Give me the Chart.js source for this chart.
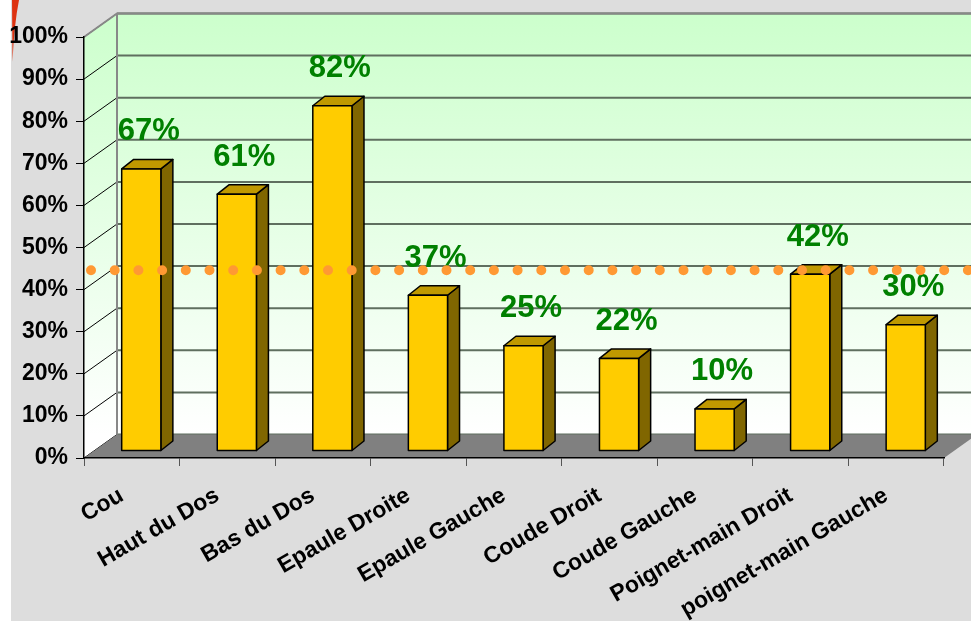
<!DOCTYPE html>
<html>
<head>
<meta charset="utf-8">
<script src="https://cdn.jsdelivr.net/npm/chart.js@4.4.1/dist/chart.umd.min.js"></script>
<style>
    body { margin: 0; background: #ffffff; }
    canvas { display: block; }
</style>
</head>
<body>
<canvas id="douleurChart" width="971" height="621"></canvas>
<script>
const categories = ['Cou', 'Haut du Dos', 'Bas du Dos', 'Epaule Droite', 'Epaule Gauche',
    'Coude Droit', 'Coude Gauche', 'Poignet-main Droit', 'poignet-main Gauche'];
const percentages = [67, 61, 82, 37, 25, 22, 10, 42, 30];
const yTicks = [0, 10, 20, 30, 40, 50, 60, 70, 80, 90, 100];
const seuil = 44.6; // orange dotted line

// 3D look, same for every bar
const depthX = 33, depthY = 23.5;    // floor / back wall offset
const barShiftX = 9.5, barShiftY = -7; // bar front face sits a bit back
const barDepthX = 12, barDepthY = 9.5;

const threeD = {
    id: 'threeD',
    beforeDraw(chart) {
        const c = chart.ctx;
        const area = chart.chartArea;
        const y = chart.scales.y;
        c.save();
        // page background
        c.fillStyle = '#dddddd';
        c.fillRect(11, 0, chart.width - 11, chart.height);
        // red stroke in top left corner
        c.fillStyle = '#dd3311';
        c.beginPath();
        c.moveTo(12, 0);
        c.lineTo(19, 0);
        c.quadraticCurveTo(14, 25, 12.5, 62);
        c.closePath();
        c.fill();

        const L = area.left, R = area.right, T = area.top, B = area.bottom;
        const grad = c.createLinearGradient(0, T - depthY, 0, B - depthY);
        grad.addColorStop(0, '#ccffcc');
        grad.addColorStop(1, '#ffffff');
        // back wall
        c.fillStyle = grad;
        c.fillRect(L + depthX, T - depthY, chart.width, B - T);
        // left wall
        c.beginPath();
        c.moveTo(L, T);
        c.lineTo(L + depthX, T - depthY);
        c.lineTo(L + depthX, B - depthY);
        c.lineTo(L, B);
        c.closePath();
        c.fill();

        // gridlines
        yTicks.forEach(v => {
            const py = y.getPixelForValue(v);
            c.strokeStyle = '#5f6f5f';
            c.lineWidth = 2;
            c.beginPath();
            c.moveTo(L + depthX, py - depthY);
            c.lineTo(chart.width, py - depthY);
            c.stroke();
            c.strokeStyle = '#000000';
            c.lineWidth = 1;
            c.beginPath();
            c.moveTo(L, py);
            c.lineTo(L + depthX, py - depthY);
            c.stroke();
        });
        // wall edges
        c.strokeStyle = '#888888';
        c.lineWidth = 2;
        c.beginPath();
        c.moveTo(L, T);
        c.lineTo(L + depthX, T - depthY);
        c.lineTo(chart.width, T - depthY);
        c.moveTo(L + depthX, T - depthY);
        c.lineTo(L + depthX, B - depthY);
        c.stroke();

        // floor
        c.fillStyle = '#808080';
        c.beginPath();
        c.moveTo(L, B);
        c.lineTo(R, B);
        c.lineTo(R + depthX, B - depthY);
        c.lineTo(L + depthX, B - depthY);
        c.closePath();
        c.fill();
        c.restore();
    },
    afterDatasetsDraw(chart) {
        const c = chart.ctx;
        const y = chart.scales.y;
        const meta = chart.getDatasetMeta(0);
        c.save();
        c.lineWidth = 1.5;
        c.strokeStyle = '#000000';
        c.lineJoin = 'round';
        meta.data.forEach(bar => {
            const w = bar.width;
            const x0 = bar.x - w / 2 + barShiftX, x1 = bar.x + w / 2 + barShiftX;
            const top = bar.y + barShiftY, bot = bar.base + barShiftY;
            // side
            c.fillStyle = '#806600';
            c.beginPath();
            c.moveTo(x1, top);
            c.lineTo(x1 + barDepthX, top - barDepthY);
            c.lineTo(x1 + barDepthX, bot - barDepthY);
            c.lineTo(x1, bot);
            c.closePath();
            c.fill(); c.stroke();
            // top
            c.fillStyle = '#c09900';
            c.beginPath();
            c.moveTo(x0, top);
            c.lineTo(x0 + barDepthX, top - barDepthY);
            c.lineTo(x1 + barDepthX, top - barDepthY);
            c.lineTo(x1, top);
            c.closePath();
            c.fill(); c.stroke();
            // front
            c.fillStyle = '#ffcc00';
            c.fillRect(x0, top, w, bot - top);
            c.strokeRect(x0, top, w, bot - top);
        });

        // value labels
        c.fillStyle = '#008000';
        c.font = 'bold 31px "Liberation Sans", Arial, sans-serif';
        c.textAlign = 'center';
        c.textBaseline = 'middle';
        meta.data.forEach((bar, i) => {
            c.fillText(percentages[i] + '%', bar.x + 17, bar.y - 44);
        });

        // dotted line
        const ly = y.getPixelForValue(seuil);
        c.strokeStyle = '#ff9933';
        c.lineWidth = 10;
        c.lineCap = 'round';
        c.setLineDash([0, 23.7]);
        c.beginPath();
        c.moveTo(91, ly);
        c.lineTo(chart.width + 10, ly);
        c.stroke();
        c.restore();
    }
};

const ctx = document.getElementById('douleurChart').getContext('2d');
const douleurChart = new Chart(ctx, {
    type: 'bar',
    data: {
        labels: categories,
        datasets: [{
            label: 'Douleurs',
            data: percentages,
            backgroundColor: 'rgba(0,0,0,0)',
            borderWidth: 0,
            barPercentage: 0.41,
            categoryPercentage: 1
        }]
    },
    options: {
        responsive: false,
        animation: false,
        layout: { padding: { left: 0, right: 27, top: 37, bottom: 0 } },
        plugins: {
            legend: { display: false },
            tooltip: { enabled: false }
        },
        scales: {
            x: {
                afterFit: scale => { scale.height = 163; },
                grid: { drawOnChartArea: false, tickLength: 8, tickColor: '#555555', offset: true },
                border: { display: true, color: '#000000', width: 1.5 },
                ticks: {
                    color: '#000000',
                    font: { family: '"Liberation Sans", Arial, sans-serif', size: 23, weight: 'bold' },
                    minRotation: 30,
                    maxRotation: 30,
                    autoSkip: false,
                    padding: 16,
                    labelOffset: -10
                }
            },
            y: {
                min: 0,
                max: 100,
                afterFit: scale => { scale.width = 84; },
                grid: { drawOnChartArea: false, tickLength: 8, tickColor: '#000000' },
                border: { display: true, color: '#000000', width: 1.5 },
                ticks: {
                    stepSize: 10,
                    color: '#000000',
                    padding: 8,
                    font: { family: '"Liberation Sans", Arial, sans-serif', size: 23, weight: 'bold' },
                    callback: v => v + '%'
                }
            }
        }
    },
    plugins: [threeD]
});
</script>
</body>
</html>
